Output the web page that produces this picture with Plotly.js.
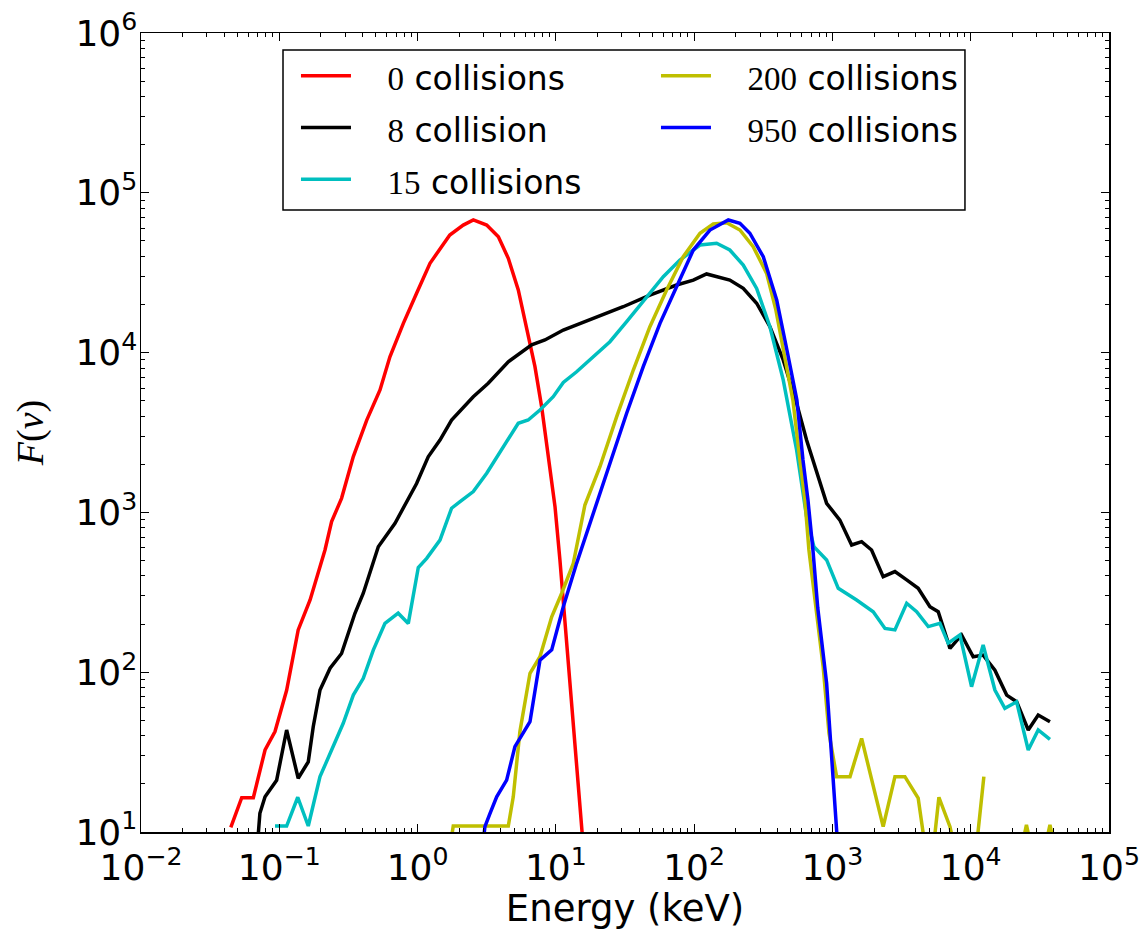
<!DOCTYPE html>
<html>
<head>
<meta charset="utf-8">
<script src="https://cdn.plot.ly/plotly-3.0.1.min.js"></script>
<style>html,body{margin:0;padding:0;background:#fff;}#chart{width:1142px;height:930px;}</style>
</head>
<body>
<div id="chart"></div>
<script>
// ---- data (Energy in keV, F(nu)) ----
var seriesCounts = [0, 8, 15, 200, 950];
var seriesWords = ['collisions', 'collision', 'collisions', 'collisions', 'collisions'];
var seriesColors = ['#ff0000', '#000000', '#00bfbf', '#bfbf00', '#0000ff'];

var E0 = [0.0446, 0.0535, 0.0649, 0.0789, 0.0931, 0.113, 0.137, 0.167, 0.214, 0.239, 0.282, 0.343, 0.429, 0.535, 0.631, 0.789, 0.984, 1.23, 1.71, 2.14, 2.53, 3.16, 3.84, 4.53, 5.35, 6.15, 7.06, 7.89, 8.81, 9.86, 10.7, 11.3, 13.4, 15.8];
var F0 = [10.7, 16.4, 16.4, 32.6, 42.5, 77, 184, 283, 582, 875, 1225, 2234, 3784, 5834, 9419, 15240, 23500, 36220, 54450, 62800, 67600, 62800, 53100, 38900, 24660, 14520, 8166, 4592, 2344, 1086, 504, 283, 52, 8];

var E8 = [0.0692, 0.0724, 0.0789, 0.0957, 0.113, 0.137, 0.162, 0.176, 0.197, 0.233, 0.282, 0.324, 0.352, 0.405, 0.441, 0.492, 0.520, 0.687, 0.834, 0.984, 1.194, 1.452, 1.762, 2.529, 3.243, 4.529, 6.683, 8.337, 11.32, 17.66, 19.72, 30.69, 47.86, 74.65, 98.6, 123.0, 181.1, 226.5, 283.1, 353.2, 440.6, 550.8, 650.1, 769.1, 907.8, 1132, 1377, 1626, 1919, 2328, 2831, 3443, 4169, 5070, 5821, 7079, 8590, 10420, 12300, 14960, 18200, 21480, 26060, 30760, 37410];
var F8 = [7.9, 13.1, 16.6, 21.1, 43.5, 21.7, 27.5, 45.6, 77.4, 106, 131, 184, 233, 312, 396, 528, 610, 855, 1167, 1517, 2228, 2838, 3784, 5297, 6427, 8770, 11170, 11990, 13840, 16000, 16790, 19360, 22910, 26490, 28440, 31050, 28440, 25230, 20370, 14520, 8995, 4819, 2838, 1758, 1140, 895, 625, 656, 582, 396, 426, 378, 335, 257, 239, 141, 171, 125, 128, 103, 71.9, 65.3, 43.5, 54.0, 49.0];

var E15 = [0.0931, 0.113, 0.136, 0.162, 0.197, 0.245, 0.290, 0.343, 0.405, 0.479, 0.581, 0.724, 0.857, 1.012, 1.164, 1.452, 1.762, 2.028, 2.529, 3.162, 4.055, 5.346, 6.310, 7.674, 9.572, 11.32, 14.13, 18.62, 24.60, 32.51, 45.39, 59.84, 78.89, 110.2, 145.5, 181.1, 226.5, 283.1, 353.2, 440.6, 550.8, 650.1, 734.5, 907.8, 1102, 1496, 1972, 2399, 2831, 3443, 4064, 4932, 5984, 6871, 8356, 10140, 12300, 14960, 17660, 21480, 26060, 30760, 37410];
var F15 = [10.9, 10.9, 16.5, 10.9, 22.2, 34.2, 47.9, 71.9, 91.6, 138, 202, 234, 202, 452, 516, 671, 1062, 1167, 1349, 1758, 2460, 3614, 3784, 4375, 5297, 6501, 7586, 9419, 11700, 15600, 22390, 29850, 37930, 47100, 48310, 43850, 35320, 25230, 14520, 6745, 2460, 940, 610, 504, 335, 283, 239, 188, 184, 270, 239, 193, 202, 152, 171, 81.1, 148, 77.4, 59.4, 65.3, 32.6, 43.5, 38.0];

var E200 = [1.585, 1.811, 2.239, 2.818, 3.548, 4.529, 4.920, 5.495, 6.501, 7.674, 9.333, 11.02, 13.37, 16.22, 20.84, 27.54, 36.31, 47.86, 63.24, 83.37, 110.2, 137.4, 171.8, 214.3, 267.3, 334.2, 389.9, 452.9, 517.6, 582.1, 632.4, 676.1, 746.4, 857.0, 944.1, 1072, 1340, 1626, 2328, 2831, 3342, 4169, 5070, 5888, 7079, 8590, 10380, 12450, 13500, 20890, 25290, 30760, 37410, 45400];
var F200 = [5, 10.9, 10.9, 10.9, 10.9, 10.9, 16.6, 42.5, 98.4, 125, 222, 312, 480, 1112, 1932, 3972, 7780, 14520, 24660, 39810, 55850, 63830, 65010, 58480, 46030, 31330, 18490, 8995, 5047, 2128, 1197, 582, 283, 108, 41.7, 22.2, 22.2, 38.5, 10.8, 22.2, 22.2, 16.3, 5, 16.5, 10.8, 5, 5, 22.2, null, 5, 11.1, 5, 11.1, 5];

var E950 = [2.951, 3.069, 3.342, 3.733, 4.406, 5.058, 6.501, 7.674, 9.333, 11.32, 14.13, 18.62, 24.60, 32.51, 42.85, 56.62, 74.65, 98.62, 130.0, 176.6, 214.3, 252.9, 316.2, 395.4, 468.8, 553.4, 612.4, 665.3, 722.8, 783.4, 907.8, 990.8, 1072, 1096];
var F950 = [7.94, 10.8, 13.1, 16.6, 21.1, 34.2, 49.0, 119, 138, 257, 480, 986, 2028, 4169, 8166, 15240, 25820, 43850, 58480, 67610, 64420, 55850, 39810, 21330, 10380, 5047, 2128, 1197, 582, 252, 85.5, 29.4, 10.3, 7.76];

var xTickVals = [0.01, 0.1, 1, 10, 100, 1000, 10000, 100000];
var xTickText = ['10<sup>\u22122</sup>', '10<sup>\u22121</sup>', '10<sup>0</sup>', '10<sup>1</sup>', '10<sup>2</sup>', '10<sup>3</sup>', '10<sup>4</sup>', '10<sup>5</sup>'];
var yTickVals = [10, 100, 1000, 10000, 100000, 1000000];
var yTickText = ['10<sup>1</sup>', '10<sup>2</sup>', '10<sup>3</sup>', '10<sup>4</sup>', '10<sup>5</sup>', '10<sup>6</sup>'];

// ---- build traces ----
var xs = [E0, E8, E15, E200, E950];
var ys = [F0, F8, F15, F200, F950];
var ranks = [1, 3, 5, 2, 4];
var traces = xs.map(function (x, i) {
  return {
    type: 'scatter', mode: 'lines', x: x, y: ys[i],
    name: '<span style="font-size:33px">&nbsp;&nbsp;&nbsp;<span style="font-family:\'Liberation Serif\'">' + seriesCounts[i] + '</span> ' + seriesWords[i] + '</span>',
    line: {color: seriesColors[i], width: 3.5},
    legendrank: ranks[i],
    connectgaps: false,
    hoverinfo: 'skip'
  };
});

var axisCommon = {
  type: 'log', showgrid: false, zeroline: false,
  showline: true, linecolor: '#000', linewidth: 1.5, mirror: 'allticks',
  ticks: 'inside', ticklen: 8, tickwidth: 1, tickcolor: '#000',
  tickmode: 'array',
  tickfont: {family: 'DejaVu Sans', size: 36, color: '#000'},
  minor: {ticks: 'inside', ticklen: 4, tickwidth: 1, tickcolor: '#000', dtick: 'D1', showgrid: false}
};

var layout = {
  width: 1142, height: 930,
  margin: {l: 141, r: 33, t: 33, b: 98, pad: 0},
  paper_bgcolor: '#fff', plot_bgcolor: '#fff',
  showlegend: true,
  xaxis: Object.assign({}, axisCommon, {
    range: [-2, 5], tickvals: xTickVals, ticktext: xTickText, ticklabelstandoff: 3,
    title: {text: 'Energy (keV)', font: {family: 'DejaVu Sans', size: 37, color: '#000'}, standoff: 9}
  }),
  yaxis: Object.assign({}, axisCommon, {
    range: [1, 6], tickvals: yTickVals, ticktext: yTickText, ticklabelstandoff: -5,
    title: {text: '<i>F</i>(<i>\u03bd</i>)', font: {family: 'Liberation Serif', size: 38, color: '#000'}, standoff: 20}
  }),
  shapes: [{
    type: 'rect', xref: 'paper', yref: 'paper', layer: 'above',
    x0: 0.1467, x1: 0.8512, y0: 0.7785, y1: 0.9787,
    line: {color: '#000', width: 1.5}, fillcolor: '#fff'
  }],
  legend: {
    orientation: 'h', x: 0.1601, y: 0.985, xanchor: 'left', yanchor: 'top',
    bgcolor: 'rgba(0,0,0,0)', borderwidth: 0,
    font: {family: 'DejaVu Sans', size: 37.5, color: '#000'},
    entrywidth: 295, entrywidthmode: 'pixels', itemwidth: 50,
    traceorder: 'normal'
  }
};

Plotly.newPlot('chart', traces, layout, {displayModeBar: false, staticPlot: true});
</script>
</body>
</html>
